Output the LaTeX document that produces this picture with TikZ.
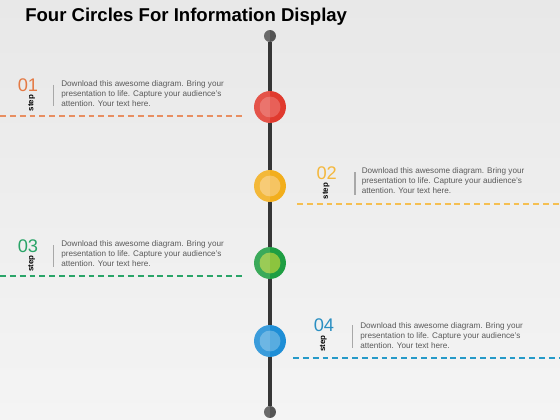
\documentclass[tikz,border=0pt]{standalone}
\usepackage{fontspec}
\setmainfont{Liberation Sans}
\usepackage{xcolor}
\usetikzlibrary{positioning}
\definecolor{bgtop}{HTML}{E8E8E8}
\definecolor{bgbottom}{HTML}{F4F4F4}
\definecolor{poledark}{HTML}{363636}
\definecolor{bodygray}{HTML}{5A5A5A}
\definecolor{bargray}{HTML}{A8A8A8}
\definecolor{redouter}{HTML}{E03A2E}
\definecolor{redinner}{HTML}{E86058}
\definecolor{orangeouter}{HTML}{F2AE1C}
\definecolor{orangeinner}{HTML}{F6C462}
\definecolor{greenouter}{HTML}{1E9E42}
\definecolor{greeninner}{HTML}{8CC43E}
\definecolor{blueouter}{HTML}{1E8ED6}
\definecolor{blueinner}{HTML}{58ACE0}
\definecolor{numred}{HTML}{E47A45}
\definecolor{numorange}{HTML}{F4B83E}
\definecolor{numgreen}{HTML}{2AA468}
\definecolor{numblue}{HTML}{2A8FC2}

\tikzset{
  titletext/.style={font=\fontsize{13.2}{15}\selectfont\bfseries, inner sep=0pt},
  numtext/.style={font=\fontsize{13}{13}\selectfont, inner sep=0pt, anchor=base},
  steptext/.style={font=\fontsize{5.6}{6}\selectfont\bfseries, rotate=90, inner sep=0pt},
  bodytext/.style={font=\fontsize{5.8}{7.1}\selectfont, text=bodygray, align=left, inner sep=0pt, anchor=west},
  sepbar/.style={draw=bargray, line width=1.1pt},
  guide/.style={line width=0.8pt, dash pattern=on 4.2pt off 2.8pt},
  pole/.style={draw=poledark, line width=3pt},
  dot/.style={circle, inner sep=0pt, minimum size=22.7pt,
    path picture={\fill[white, opacity=.13] (path picture bounding box.north west) rectangle (path picture bounding box.south);}},
  innerdot/.style={dot, minimum size=14.9pt},
  polecap/.style={dot, minimum size=8.5pt, fill=poledark!85}
}

\begin{document}
\begin{tikzpicture}[x=0.025cm, y=-0.025cm]
        % Background
        \shade[top color=bgtop, bottom color=bgbottom] (0,0) rectangle (560,420);
        \useasboundingbox (0,0) rectangle (560,420);

        % Title
        \node[titletext, anchor=base west] (title) at (25,22) {Four Circles For Information Display};

        % Pole with end caps
        \node[polecap] (top) at (270,36) {};
        \node[polecap] (bottom) at (270,412) {};
        \draw[pole] (top) -- (bottom);

        % Circles on the pole
        \node[dot, fill=redouter] (c1) at (270,107) {};
        \node[innerdot, fill=redinner] (c1in) at (c1) {};
        \node[dot, fill=orangeouter] (c2) at (270,186) {};
        \node[innerdot, fill=orangeinner] (c2in) at (c2) {};
        \node[dot, fill=greenouter] (c3) at (270,263) {};
        \node[innerdot, fill=greeninner] (c3in) at (c3) {};
        \node[dot, fill=blueouter] (c4) at (270,341) {};
        \node[innerdot, fill=blueinner] (c4in) at (c4) {};

        % Step 01
        \node[numtext, text=numred] (n1) at (28,91.5) {01};
        \node[steptext] (s1) at (31.5,103) {step};
        \coordinate (b1a) at (53.3,85);
        \coordinate (b1b) at (53.3,106);
        \draw[sepbar] (b1a) -- (b1b);
        \node[bodytext] (t1) at (61,94) {Download this awesome diagram. Bring your\\presentation to life. Capture your audience's\\attention. Your text here.};
        \coordinate (g1a) at (0,116);
        \coordinate (g1b) at (242,116);
        \draw[guide, draw=numred!85] (g1a) -- (g1b);

        % Step 02
        \node[numtext, text=numorange] (n2) at (326.7,179.5) {02};
        \node[steptext] (s2) at (326,191) {step};
        \coordinate (b2a) at (355,172);
        \coordinate (b2b) at (355,195);
        \draw[sepbar] (b2a) -- (b2b);
        \node[bodytext] (t2) at (361.5,181) {Download this awesome diagram. Bring your\\presentation to life. Capture your audience's\\attention. Your text here.};
        \coordinate (g2a) at (297,204);
        \coordinate (g2b) at (560,204);
        \draw[guide, draw=numorange!90] (g2a) -- (g2b);

        % Step 03
        \node[numtext, text=numgreen] (n3) at (28,252) {03};
        \node[steptext] (s3) at (31.5,263.5) {step};
        \coordinate (b3a) at (53.3,245);
        \coordinate (b3b) at (53.3,266.7);
        \draw[sepbar] (b3a) -- (b3b);
        \node[bodytext] (t3) at (61,254) {Download this awesome diagram. Bring your\\presentation to life. Capture your audience's\\attention. Your text here.};
        \coordinate (g3a) at (0,276);
        \coordinate (g3b) at (242,276);
        \draw[guide, draw=numgreen] (g3a) -- (g3b);

        % Step 04
        \node[numtext, text=numblue] (n4) at (324,331) {04};
        \node[steptext] (s4) at (323.3,343.5) {step};
        \coordinate (b4a) at (352.7,325);
        \coordinate (b4b) at (352.7,348.3);
        \draw[sepbar] (b4a) -- (b4b);
        \node[bodytext] (t4) at (360,336) {Download this awesome diagram. Bring your\\presentation to life. Capture your audience's\\attention. Your text here.};
        \coordinate (g4a) at (293,358);
        \coordinate (g4b) at (560,358);
        \draw[guide, draw=numblue!90!cyan] (g4a) -- (g4b);
    \end{tikzpicture}
\end{document}
